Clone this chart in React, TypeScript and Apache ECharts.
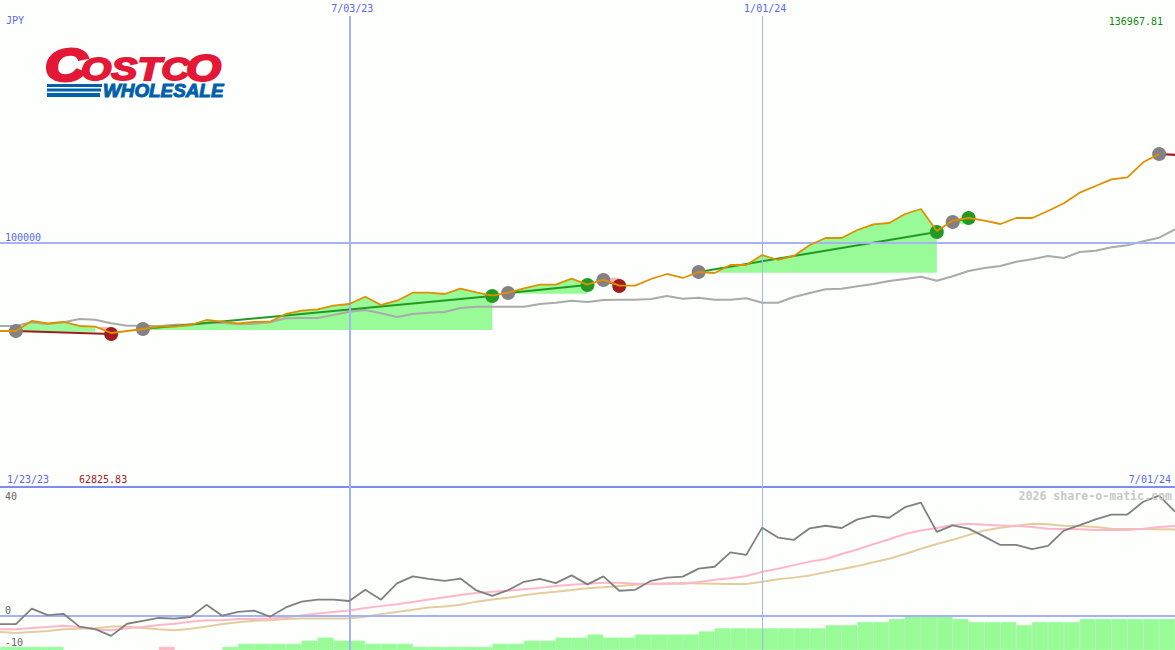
import React, { useEffect, useRef } from 'react';
import * as echarts from 'echarts';

const dates = [
  '1/23/23', '1/30/23', '2/06/23', '2/13/23', '2/27/23', '3/06/23', '3/13/23', '3/20/23', '3/27/23', '4/03/23',
  '4/10/23', '4/17/23', '4/24/23', '5/01/23', '5/08/23', '5/15/23', '5/22/23', '5/29/23', '6/05/23', '6/12/23',
  '6/19/23', '6/26/23', '7/03/23', '7/10/23', '7/17/23', '7/24/23', '7/31/23', '8/07/23', '8/14/23', '8/21/23',
  '8/28/23', '9/04/23', '9/11/23', '9/18/23', '9/25/23', '10/02/23', '10/09/23', '10/16/23', '10/23/23', '10/30/23',
  '11/06/23', '11/13/23', '11/20/23', '11/27/23', '12/04/23', '12/11/23', '12/18/23', '12/25/23', '1/01/24', '1/08/24',
  '1/15/24', '1/22/24', '1/29/24', '2/05/24', '2/12/24', '2/19/24', '2/26/24', '3/04/24', '3/11/24', '3/18/24',
  '3/25/24', '4/01/24', '4/08/24', '4/15/24', '4/22/24', '4/29/24', '5/06/24', '5/13/24', '5/20/24', '5/27/24',
  '6/03/24', '6/10/24', '6/17/24', '6/24/24', '7/01/24',
];

const priceValues = [
  86577, 86577, 88099, 87718, 87947, 87338, 87231, 86272, 86577, 86881,
  87262, 87262, 87490, 88251, 87992, 87749, 87947, 87992, 89165, 89667,
  89880, 90428, 90687, 91798, 90535, 91189, 92407, 92407, 92209, 93016,
  92468, 91951, 92407, 93077, 93625, 93625, 94539, 93625, 94386, 93473,
  93473, 94493, 95254, 94645, 95559, 95406, 96624, 96624, 98147, 97386,
  97995, 99669, 100735, 100735, 101953, 102821, 103018, 104389, 105150, 101801,
  103369, 103780, 103369, 102866, 103780, 103780, 104845, 106018, 107631, 108651,
  109671, 109976, 112259, 113523, null,
];

const indexValues = [
  87338, 87338, 87901, 87642, 87901, 88403, 88297, 87749, 87383, 87383,
  87292, 87536, 87536, 87749, 87840, 87597, 87688, 87901, 88510, 88556,
  88556, 89012, 89515, 89774, 89271, 88708, 89165, 89363, 89469, 90078,
  90276, 90276, 90276, 90276, 90687, 90885, 91189, 90992, 91296, 91342,
  91342, 91448, 91905, 91494, 91646, 91342, 91342, 91555, 90885, 90885,
  91753, 92362, 92925, 93016, 93382, 93732, 94189, 94493, 94843, 94234,
  94904, 95711, 96168, 96472, 97127, 97492, 97995, 97690, 98604, 98801,
  99319, 99624, 100232, 100781, 102059,
];

const oscValues = [
  -2.5, -2.5, 2.3, 0.3, 0.7, -3.3, -4.1, -6.2, -2.4, -1.5,
  -0.6, -0.8, -0.3, 3.5, 0.1, 1.3, 1.7, -0.2, 2.7, 4.5,
  5.1, 5.1, 4.7, 8.2, 5.1, 10.2, 12.4, 11.6, 11.0, 11.7,
  8.0, 6.3, 8.1, 10.7, 11.6, 10.3, 12.7, 9.9, 12.4, 7.9,
  8.2, 11.0, 12.0, 12.3, 14.8, 15.4, 19.9, 19.1, 27.6, 24.5,
  23.8, 27.4, 28.2, 27.5, 30.2, 31.3, 30.7, 34.0, 35.4, 26.3,
  28.3, 27.3, 24.8, 22.2, 22.2, 20.9, 21.9, 26.7, 28.4, 30.2,
  31.7, 31.7, 35.7, 37.6, 32.6,
];

const fastValues = [
  -4.1, -4.1, -3.7, -3.4, -3.0, -3.4, -4.1, -4.4, -3.8, -3.4,
  -2.8, -2.4, -1.8, -1.3, -1.3, -0.9, -0.9, -0.8, -0.4, 0.2,
  0.8, 1.3, 1.7, 2.5, 3.1, 3.7, 4.4, 5.2, 5.9, 6.6,
  7.2, 7.6, 7.9, 8.4, 8.8, 9.4, 9.8, 10.1, 10.4, 10.4,
  10.1, 10.1, 10.1, 10.1, 10.6, 11.3, 11.8, 12.5, 13.8, 14.8,
  15.9, 17.0, 17.8, 19.4, 20.8, 22.4, 24.0, 25.6, 26.7, 27.5,
  28.4, 28.8, 28.5, 28.3, 28.2, 27.8, 27.3, 27.2, 27.1, 26.9,
  26.9, 26.9, 27.3, 27.8, 28.1,
];

const slowValues = [
  -5.0, -5.3, -5.0, -4.7, -4.1, -4.0, -3.8, -3.3, -3.3, -3.7,
  -4.1, -4.4, -4.0, -3.3, -2.5, -1.9, -1.5, -1.3, -0.9, -0.8,
  -0.8, -0.8, -0.8, -0.2, 0.6, 1.3, 2.0, 2.7, 3.0, 3.5,
  4.5, 5.2, 5.7, 6.5, 7.1, 7.6, 8.1, 8.7, 9.0, 9.4,
  9.8, 10.1, 10.2, 10.3, 10.2, 10.1, 10.0, 10.0, 10.7, 11.5,
  12.0, 12.7, 13.7, 14.6, 15.6, 16.8, 17.9, 19.4, 21.0, 22.5,
  23.8, 25.3, 26.7, 27.6, 28.2, 28.8, 28.7, 28.2, 28.1, 27.8,
  27.3, 27.2, 27.2, 27.1, 27.0,
];

// one bar per week gap, so 74 of them; the sign only picks the colour
const histValues = [
  1, 1, 1, 1, 0, 0, 0, 0, 0, 0, -1, 0, 0, 0, 1, 2, 2, 2, 2, 3,
  4, 3, 3, 2, 2, 2, 1, 1, 1, 1, 1, 2, 2, 3, 3, 4, 4, 5, 4, 4,
  5, 5, 5, 5, 6, 7, 7, 7, 7, 7, 7, 7, 8, 8, 9, 9, 10, 11, 11, 11,
  10, 9, 9, 9, 8, 9, 9, 9, 10, 10, 10, 10, 10, 10,
];
const histSlots = histValues.map((_, i) => dates[i]);

// entry index, exit index, trend values at both ends, colour of the exit dot
const trades = [
  { from: 1, to: 7, open: 86577, close: 86120, win: false },
  { from: 9, to: 31, open: 86881, close: 91905, win: true },
  { from: 32, to: 37, open: 92362, close: 93580, win: true },
  { from: 38, to: 39, open: 94341, close: 93427, win: false },
  { from: 44, to: 59, open: 95559, close: 101648, win: true },
  { from: 60, to: 61, open: 103171, close: 103780, win: true },
  { from: 73, to: 74, open: 113523, close: 113370, win: false },
];

// price areas: between the price line and a flat level
const gainFills = [
  { from: 1, to: 6, level: 86470 },
  { from: 9, to: 31, level: 86729 },
  { from: 32, to: 37, level: 92255 },
  { from: 44, to: 59, level: 95452 },
  { from: 60, to: 61, level: 102900 },
];
const lossFills = [
  { from: 6, to: 7, level: 87200 },
  { from: 38, to: 39, level: 94692 },
  { from: 73, to: 74, level: 113675 },
];

const priceMin = 62825.83;
const priceMax = 136967.81;
const oscMin = -10.6;
const oscMax = 40.3;
const topDates = ['7/03/23', '1/01/24'];
const edgeDates = ['1/23/23', '7/01/24'];
const priceTicks = [100000];
const oscTicks = [
  { label: '40', y: 496 },
  { label: '0', y: 610 },
  { label: '-10', y: 642 },
];

const MONO = '"DejaVu Sans Mono", monospace';
const BLUE_TEXT = '#5a66f0';
const GRID_BLUE = '#a4b4f2';
const GREEN = '#229922';
const RED = '#a01c1c';
const GAIN = '#98fb98';
const LOSS = '#ffb6c1';
const LOGO_RED = '#e31837';
const LOGO_BLUE = '#0060a9';

const App = () => {
  const chartRef = useRef<HTMLDivElement>(null);

  useEffect(() => {
    if (!chartRef.current) return;
    const chart = echarts.init(chartRef.current, undefined, { renderer: 'svg' });

    const noAxisParts = { axisLine: { show: false }, axisTick: { show: false }, splitLine: { show: false } };
    const lineBase = { type: 'line', showSymbol: false, symbol: 'none', silent: true, connectNulls: false };

    const fillSeries = (fills: any[], color: string) =>
      fills.map((f) => ({
        ...lineBase,
        xAxisIndex: 0,
        yAxisIndex: 0,
        z: 2,
        lineStyle: { width: 0 },
        itemStyle: { color },
        areaStyle: { color, opacity: 1, origin: f.level },
        data: dates.map((_, i) => {
          if (i < f.from || i > f.to) return null;
          return priceValues[i] ?? trades[trades.length - 1].close;
        }),
      }));

    const trendSeries = trades.map((t) => ({
      ...lineBase,
      xAxisIndex: 0,
      yAxisIndex: 0,
      z: 4,
      lineStyle: { color: t.win ? GREEN : RED, width: 2 },
      data: dates.map((_, i) => (i === t.from ? t.open : i === t.to ? t.close : null)),
      connectNulls: true,
    }));

    const dotStyle = (color: string) => ({ color, opacity: 1 });
    const entryDots = trades.map((t) => [dates[t.from], t.open]);
    const exitDots = (win: boolean) =>
      trades.filter((t) => t.win === win && t.to < dates.length - 1).map((t) => [dates[t.to], t.close]);

    const option: any = {
      animation: false,
      backgroundColor: '#fdfffc',
      grid: [
        { left: 0, right: -1, top: 0, height: 487 },
        { left: 0, right: -1, top: 487, height: 163 },
      ],
      xAxis: [
        {
          type: 'category', gridIndex: 0, position: 'top', boundaryGap: false, data: dates,
          ...noAxisParts,
          axisLabel: {
            inside: true, margin: 3, color: BLUE_TEXT, fontFamily: MONO, fontSize: 10, padding: [0, 0, 0, 6],
            interval: (_: number, value: string) => topDates.includes(value),
          },
        },
        {
          type: 'category', gridIndex: 0, position: 'bottom', boundaryGap: false, data: dates,
          axisLine: { show: true, lineStyle: { color: '#7c8cf2', width: 2 } },
          axisTick: { show: false },
          splitLine: { show: false },
          axisLabel: {
            inside: true, margin: 3, color: BLUE_TEXT, fontFamily: MONO, fontSize: 10,
            alignMinLabel: 'left', alignMaxLabel: 'right',
            padding: [0, 4, 0, 7],
            interval: (_: number, value: string) => edgeDates.includes(value),
          },
        },
        { type: 'category', gridIndex: 1, boundaryGap: false, data: dates, show: false },
        { type: 'category', gridIndex: 1, boundaryGap: true, data: histSlots, show: false },
      ],
      yAxis: [
        {
          type: 'value', gridIndex: 0, min: priceMin, max: priceMax,
          ...noAxisParts,
          axisLabel: {
            inside: true, margin: 5, color: BLUE_TEXT, fontFamily: MONO, fontSize: 10,
            verticalAlign: 'bottom', customValues: priceTicks,
            formatter: (v: number) => String(v),
          },
        },
        { type: 'value', gridIndex: 1, min: oscMin, max: oscMax, show: false },
        { type: 'value', gridIndex: 1, min: 0, max: 52.7, show: false },
      ],
      graphic: [
        { type: 'text', x: 6, y: 20, style: { text: 'JPY', fill: BLUE_TEXT, font: `10px ${MONO}`, verticalAlign: 'middle' } },
        { type: 'text', x: 1163, y: 21, style: { text: '136967.81', fill: '#108810', font: `10px ${MONO}`, align: 'right', verticalAlign: 'middle' } },
        { type: 'text', x: 79, y: 479, style: { text: '62825.83', fill: RED, font: `10px ${MONO}`, verticalAlign: 'middle' } },
        { type: 'text', x: 1172, y: 496, z: 10, style: { text: '2026 share-o-matic.com', fill: '#c8c8c8', font: `bold 11.6px ${MONO}`, align: 'right', verticalAlign: 'middle' } },
        ...oscTicks.map((t) => ({
          type: 'text', x: 5, y: t.y, style: { text: t.label, fill: '#666666', font: `10px ${MONO}`, verticalAlign: 'middle' },
        })),
        // logo, text only
        { type: 'text', x: 45, y: 88, scaleX: 1.25, style: { text: 'C', fill: LOGO_RED, stroke: LOGO_RED, lineWidth: 3, font: 'italic bold 46px "Liberation Sans"', verticalAlign: 'bottom' } },
        { type: 'text', x: 81, y: 85, scaleX: 1.22, style: { text: 'OSTC', fill: LOGO_RED, stroke: LOGO_RED, lineWidth: 1.8, font: 'italic bold 32px "Liberation Sans"', verticalAlign: 'bottom' } },
        { type: 'text', x: 186, y: 87, scaleX: 1.22, style: { text: 'O', fill: LOGO_RED, stroke: LOGO_RED, lineWidth: 2, font: 'italic bold 37px "Liberation Sans"', verticalAlign: 'bottom' } },
        { type: 'rect', shape: { x: 47, y: 84, width: 55, height: 3 }, style: { fill: LOGO_BLUE } },
        { type: 'rect', shape: { x: 47, y: 88.5, width: 54, height: 3 }, style: { fill: LOGO_BLUE } },
        { type: 'rect', shape: { x: 47, y: 93, width: 53, height: 4 }, style: { fill: LOGO_BLUE } },
        { type: 'text', x: 103, y: 90.5, scaleX: 1.02, style: { text: 'WHOLESALE', fill: LOGO_BLUE, stroke: LOGO_BLUE, lineWidth: 1, font: 'italic bold 18.5px "Liberation Sans"', verticalAlign: 'middle' } },
      ],
      series: [
        ...fillSeries(gainFills, GAIN),
        ...fillSeries(lossFills, LOSS),
        {
          ...lineBase, name: 'grid top', xAxisIndex: 0, yAxisIndex: 0, z: 1, data: [],
          markLine: {
            silent: true, symbol: 'none', label: { show: false },
            data: [
              [{ xAxis: '7/03/23', yAxis: 134530 }, { xAxis: '7/03/23', yAxis: priceMin, lineStyle: { color: GRID_BLUE, width: 2, type: 'solid' } }],
              [{ xAxis: '1/01/24', yAxis: 134530 }, { xAxis: '1/01/24', yAxis: priceMin, lineStyle: { color: GRID_BLUE, width: 1, type: 'solid' } }],
              [{ xAxis: '1/23/23', yAxis: 100000 }, { xAxis: '7/01/24', yAxis: 100000, lineStyle: { color: GRID_BLUE, width: 2, type: 'solid' } }],
            ],
          },
        },
        {
          ...lineBase, name: 'grid bottom', xAxisIndex: 2, yAxisIndex: 1, z: 1, data: [],
          markLine: {
            silent: true, symbol: 'none', label: { show: false },
            data: [
              [{ xAxis: '7/03/23', yAxis: oscMax }, { xAxis: '7/03/23', yAxis: oscMin, lineStyle: { color: GRID_BLUE, width: 2, type: 'solid' } }],
              [{ xAxis: '1/01/24', yAxis: oscMax }, { xAxis: '1/01/24', yAxis: oscMin, lineStyle: { color: GRID_BLUE, width: 1, type: 'solid' } }],
            ],
          },
        },
        {
          type: 'bar', xAxisIndex: 3, yAxisIndex: 2, z: 2, silent: true, barWidth: '100%', barCategoryGap: '0%',
          data: histValues.map((v) => {
            if (v === 0) return null;
            const color = v < 0 ? LOSS : GAIN;
            return { value: Math.abs(v), itemStyle: { color, borderColor: color, borderWidth: 0.8 } };
          }),
        },
        {
          ...lineBase, name: 'zero', xAxisIndex: 2, yAxisIndex: 1, z: 3, data: [],
          markLine: {
            silent: true, symbol: 'none', label: { show: false },
            data: [[{ xAxis: '1/23/23', yAxis: 0 }, { xAxis: '7/01/24', yAxis: 0, lineStyle: { color: GRID_BLUE, width: 2, type: 'solid' } }]],
          },
        },
        { ...lineBase, name: 'index', xAxisIndex: 0, yAxisIndex: 0, z: 3, lineStyle: { color: '#aaaaaa', width: 2 }, data: indexValues },
        ...trendSeries,
        { type: 'scatter', silent: true, xAxisIndex: 0, yAxisIndex: 0, z: 5, symbolSize: 14, itemStyle: dotStyle('#858085'), data: entryDots },
        { type: 'scatter', silent: true, xAxisIndex: 0, yAxisIndex: 0, z: 5, symbolSize: 14, itemStyle: dotStyle(GREEN), data: exitDots(true) },
        { type: 'scatter', silent: true, xAxisIndex: 0, yAxisIndex: 0, z: 5, symbolSize: 14, itemStyle: dotStyle(RED), data: exitDots(false) },
        { ...lineBase, name: 'price', xAxisIndex: 0, yAxisIndex: 0, z: 6, lineStyle: { color: '#dd9000', width: 1.8 }, data: priceValues },
        { ...lineBase, name: 'slow', xAxisIndex: 2, yAxisIndex: 1, z: 4, lineStyle: { color: '#e3cc9e', width: 2 }, data: slowValues },
        { ...lineBase, name: 'fast', xAxisIndex: 2, yAxisIndex: 1, z: 4, lineStyle: { color: '#ffb6c8', width: 2 }, data: fastValues },
        { ...lineBase, name: 'osc', xAxisIndex: 2, yAxisIndex: 1, z: 5, lineStyle: { color: '#808080', width: 1.8 }, data: oscValues },
      ],
    };

    chart.setOption(option);

    return () => {
      chart.dispose();
    };
  }, []);

  return (
    <div
      ref={chartRef}
      style={{ position: 'fixed', left: 0, top: 0, width: 1175, height: 650 }}
    ></div>
  );
};

export default App;
